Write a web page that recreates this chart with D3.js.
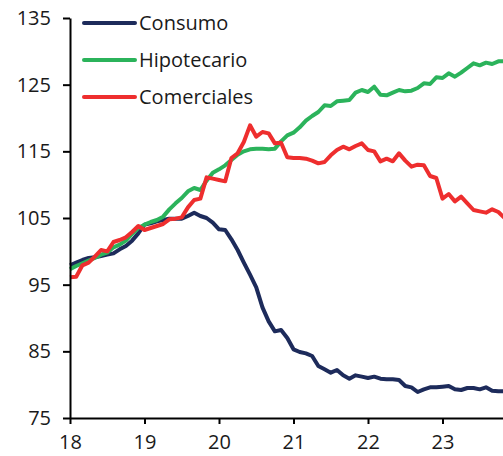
<!DOCTYPE html>
<html>
<head>
<meta charset="utf-8">
<script src="https://cdn.jsdelivr.net/npm/d3@7"></script>
<style>
  body { margin: 0; background: #fff; }
  svg { display: block; font-family: "Open Sans", sans-serif; }
</style>
</head>
<body>
<svg id="chart" width="503" height="456"></svg>
<script>
// monthly index, Jan 2018 = 0
var consumo = [97.9, 98.3, 98.7, 99.0, 99.1, 99.3, 99.5, 99.7, 100.3, 100.8, 101.6, 102.7,
  104.0, 104.2, 104.5, 104.7, 104.9, 104.9, 104.9, 105.3, 105.8, 105.3, 105.0, 104.3,
  103.3, 103.2, 101.8, 100.2, 98.3, 96.5, 94.6, 91.6, 89.5, 88.0, 88.2, 87.0,
  85.3, 84.9, 84.7, 84.3, 82.8, 82.3, 81.8, 82.2, 81.4, 80.9, 81.4, 81.2,
  81.0, 81.2, 80.9, 80.8, 80.8, 80.7, 79.8, 79.6, 78.9, 79.3, 79.6, 79.6,
  79.7, 79.8, 79.3, 79.2, 79.5, 79.5, 79.3, 79.6, 79.1, 79.0, 79.0];
var hipotecario = [97.3, 97.8, 98.2, 98.6, 99.0, 99.5, 99.8, 100.6, 101.0, 101.6, 102.6, 103.5,
  104.0, 104.4, 104.7, 105.2, 106.3, 107.2, 108.0, 109.0, 109.5, 109.2, 110.6, 111.8,
  112.3, 112.9, 113.7, 114.5, 115.0, 115.3, 115.4, 115.4, 115.3, 115.4, 116.5, 117.4,
  117.8, 118.6, 119.6, 120.3, 120.9, 121.9, 121.8, 122.5, 122.6, 122.7, 123.8, 124.2,
  123.9, 124.7, 123.5, 123.4, 123.8, 124.2, 124.0, 124.1, 124.5, 125.2, 125.1, 126.1,
  126.0, 126.7, 126.2, 126.8, 127.5, 128.2, 127.9, 128.3, 128.1, 128.5, 128.5];
var comerciales = [96.1, 96.2, 97.9, 98.3, 99.2, 100.2, 100.0, 101.4, 101.7, 102.1, 102.9, 103.8,
  103.2, 103.5, 103.8, 104.1, 104.8, 104.9, 105.1, 106.6, 107.7, 107.9, 111.1, 110.9,
  110.7, 110.5, 114.0, 114.7, 116.4, 118.9, 117.2, 117.9, 117.7, 116.2, 116.3, 114.1,
  114.0, 114.0, 113.9, 113.6, 113.2, 113.4, 114.4, 115.2, 115.7, 115.3, 115.8, 116.2,
  115.2, 115.0, 113.5, 113.9, 113.5, 114.7, 113.6, 112.7, 113.0, 112.9, 111.3, 111.0,
  107.9, 108.6, 107.5, 108.2, 107.2, 106.2, 106.0, 105.8, 106.3, 105.9, 105.0];

var seriesNames = ["Consumo", "Hipotecario", "Comerciales"];
var seriesColors = ["#1d2b5b", "#2bb35b", "#ee2e2e"];
var yTicks = [75, 85, 95, 105, 115, 125, 135];
var xTicks = [18, 19, 20, 21, 22, 23];

var allSeries = [consumo, hipotecario, comerciales];

var svg = d3.select("#chart");

var x = d3.scaleLinear().domain([18, 24]).range([70, 517]);
var y = d3.scaleLinear().domain([75, 135]).range([418, 18]);

var line = d3.line()
  .x(function (d, i) { return x(18 + i / 12); })
  .y(function (d) { return y(d); });

allSeries.forEach(function (s, k) {
  svg.append("path")
    .datum(s)
    .attr("fill", "none")
    .attr("stroke", seriesColors[k])
    .attr("stroke-width", 4)
    .attr("stroke-linejoin", "round")
    .attr("d", line);
});

var yAxis = svg.append("g")
  .attr("transform", "translate(70,0)")
  .call(d3.axisLeft(y).tickValues(yTicks).tickFormat(d3.format("d"))
    .tickSize(7).tickPadding(12).tickSizeOuter(0));

var xAxis = svg.append("g")
  .attr("transform", "translate(0,418)")
  .call(d3.axisBottom(x).tickValues(xTicks).tickFormat(d3.format("d"))
    .tickSize(6).tickPadding(11).tickSizeOuter(0));

[yAxis, xAxis].forEach(function (g) {
  g.selectAll("path, line").attr("stroke", "#000").attr("stroke-width", 2);
  g.selectAll("text").attr("fill", "#1a1a1a").style("font-size", "20px").style("font-family", "'Open Sans', sans-serif");
});

// legend
var legend = svg.append("g");
seriesNames.forEach(function (name, k) {
  var ly = 23 + k * 37;
  legend.append("line")
    .attr("x1", 84).attr("x2", 135)
    .attr("y1", ly).attr("y2", ly)
    .attr("stroke", seriesColors[k])
    .attr("stroke-width", 4)
    .attr("stroke-linecap", "round");
  legend.append("text")
    .attr("x", 139).attr("y", ly)
    .attr("dy", "0.35em")
    .attr("fill", "#1a1a1a")
    .style("font-size", "20px")
    .text(name);
});
</script>
</body>
</html>
